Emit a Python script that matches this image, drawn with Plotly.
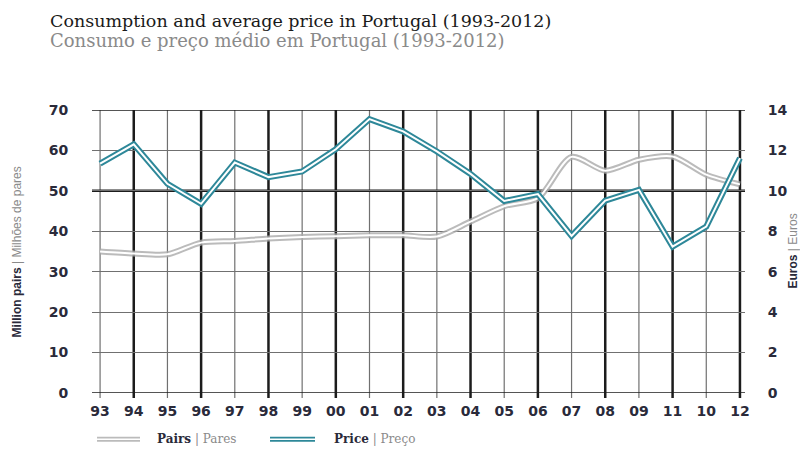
import plotly.graph_objects as go

# ---- data ----
categories = ["93", "94", "95", "96", "97", "98", "99", "00", "01", "02",
              "03", "04", "05", "06", "07", "08", "09", "11", "10", "12"]
pairs_million = [35.0, 34.5, 34.3, 37.2, 37.6, 38.2, 38.6, 38.8, 39.0, 39.0,
                 38.7, 42.4, 46.2, 48.2, 58.4, 55.0, 57.7, 58.5, 54.0, 51.6]
price_euros = [11.35, 12.3, 10.35, 9.36, 11.4, 10.68, 10.96, 12.06, 13.55, 12.94,
               11.95, 10.84, 9.5, 9.84, 7.77, 9.52, 10.05, 7.24, 8.23, 11.62]
left_ticks = [0, 10, 20, 30, 40, 50, 60, 70]
right_ticks = [0, 2, 4, 6, 8, 10, 12, 14]

x_idx = list(range(len(categories)))

GRAY = "rgba(170,170,170,0.8)"
TEAL = "#2e8899"
DARK = "#1c1c1c"
GRID = "#707070"
LABEL = "#2a2a3a"

fig = go.Figure()

# Pairs (double line)
fig.add_trace(go.Scatter(x=x_idx, y=pairs_million, mode="lines", yaxis="y",
                         line=dict(color=GRAY, width=6, shape="spline", smoothing=0.8),
                         showlegend=False, hoverinfo="skip"))
fig.add_trace(go.Scatter(x=x_idx, y=pairs_million, mode="lines", yaxis="y",
                         line=dict(color="white", width=2, shape="spline", smoothing=0.8),
                         showlegend=False, hoverinfo="skip"))
# Price (double line)
fig.add_trace(go.Scatter(x=x_idx, y=price_euros, mode="lines", yaxis="y2",
                         line=dict(color=TEAL, width=6),
                         showlegend=False, hoverinfo="skip"))
fig.add_trace(go.Scatter(x=x_idx, y=price_euros, mode="lines", yaxis="y2",
                         line=dict(color="white", width=2),
                         showlegend=False, hoverinfo="skip"))

shapes = []
# vertical grid lines
for i, c in enumerate(categories):
    thick = (i % 2 == 1)
    shapes.append(dict(type="line", xref="x", yref="paper", x0=i, x1=i,
                       y0=-0.018, y1=1, layer="below",
                       line=dict(color=DARK if thick else GRID, width=2.5 if thick else 1.2)))
# special horizontal lines
for val, w in [(0, 1.6), (50, 2.5), (70, 1.6)]:
    shapes.append(dict(type="line", xref="paper", yref="y", x0=0, x1=1, y0=val, y1=val,
                       layer="below", line=dict(color=DARK, width=w)))

# legend (manual, double lines)
leg_y = -0.163
for x0, x1, col in [(0.0077, 0.0735, GRAY), (0.2726, 0.3415, TEAL)]:
    shapes.append(dict(type="line", xref="paper", yref="paper", x0=x0, x1=x1,
                       y0=leg_y, y1=leg_y, line=dict(color=col, width=5)))
    shapes.append(dict(type="line", xref="paper", yref="paper", x0=x0, x1=x1,
                       y0=leg_y, y1=leg_y, line=dict(color="white", width=1.5)))

annotations = [
    dict(xref="paper", yref="paper", x=-0.0674, y=1.3145, xanchor="left", yanchor="middle",
         showarrow=False, font=dict(family="DejaVu Serif", size=17.5, color="#1a1a1a"),
         text="Consumption and average price in Portugal (1993-2012)"),
    dict(xref="paper", yref="paper", x=-0.0674, y=1.247, xanchor="left", yanchor="middle",
         showarrow=False, font=dict(family="DejaVu Serif", size=18, color="#8a8a8a"),
         text="Consumo e preço médio em Portugal (1993-2012)"),
    dict(xref="paper", yref="paper", x=0.096, y=leg_y, xanchor="left", yanchor="middle",
         showarrow=False, font=dict(family="DejaVu Serif", size=12, color=LABEL),
         text="<b>Pairs</b> <span style='color:#8a8a8a'>| Pares</span>"),
    dict(xref="paper", yref="paper", x=0.367, y=leg_y, xanchor="left", yanchor="middle",
         showarrow=False, font=dict(family="DejaVu Serif", size=12, color=LABEL),
         text="<b>Price</b> <span style='color:#8a8a8a'>| Preço</span>"),
    dict(xref="paper", yref="paper", x=-0.115, y=0.5, xanchor="center", yanchor="middle",
         textangle=-90, showarrow=False,
         font=dict(family="Liberation Sans Narrow, Liberation Sans", size=12, color=LABEL),
         text="<b>Million pairs</b> <span style='color:#8a8a8a'>| Milhões de pares</span>"),
    dict(xref="paper", yref="paper", x=1.072, y=0.5, xanchor="center", yanchor="middle",
         textangle=-90, showarrow=False,
         font=dict(family="Liberation Sans Narrow, Liberation Sans", size=12, color=LABEL),
         text="<b>Euros</b> <span style='color:#8a8a8a'>| Euros</span>"),
]

tickfont = dict(family="DejaVu Sans", size=14, color=LABEL, weight="bold")

fig.update_layout(
    width=792, height=441,
    margin=dict(l=84, r=55, t=102, b=56),
    paper_bgcolor="white", plot_bgcolor="white",
    xaxis=dict(range=[-0.24, 19.15], tickmode="array", tickvals=x_idx, ticktext=categories,
               showgrid=False, zeroline=False, showline=False,
               ticks="outside", ticklen=5, tickcolor="rgba(0,0,0,0)",
               tickfont=tickfont),
    yaxis=dict(range=[0, 70], tickmode="array", tickvals=left_ticks,
               showgrid=True, gridcolor=GRID, gridwidth=1.2, zeroline=False, showline=False,
               ticks="outside", ticklen=20, tickcolor="rgba(0,0,0,0)",
               tickfont=tickfont),
    yaxis2=dict(range=[0, 14], overlaying="y", side="right", tickmode="array",
                tickvals=right_ticks, showgrid=False, zeroline=False, showline=False,
                ticks="outside", ticklen=19, tickcolor="rgba(0,0,0,0)",
                tickfont=tickfont),
    shapes=shapes,
    annotations=annotations,
    showlegend=False,
)

fig.write_html("out.html")
